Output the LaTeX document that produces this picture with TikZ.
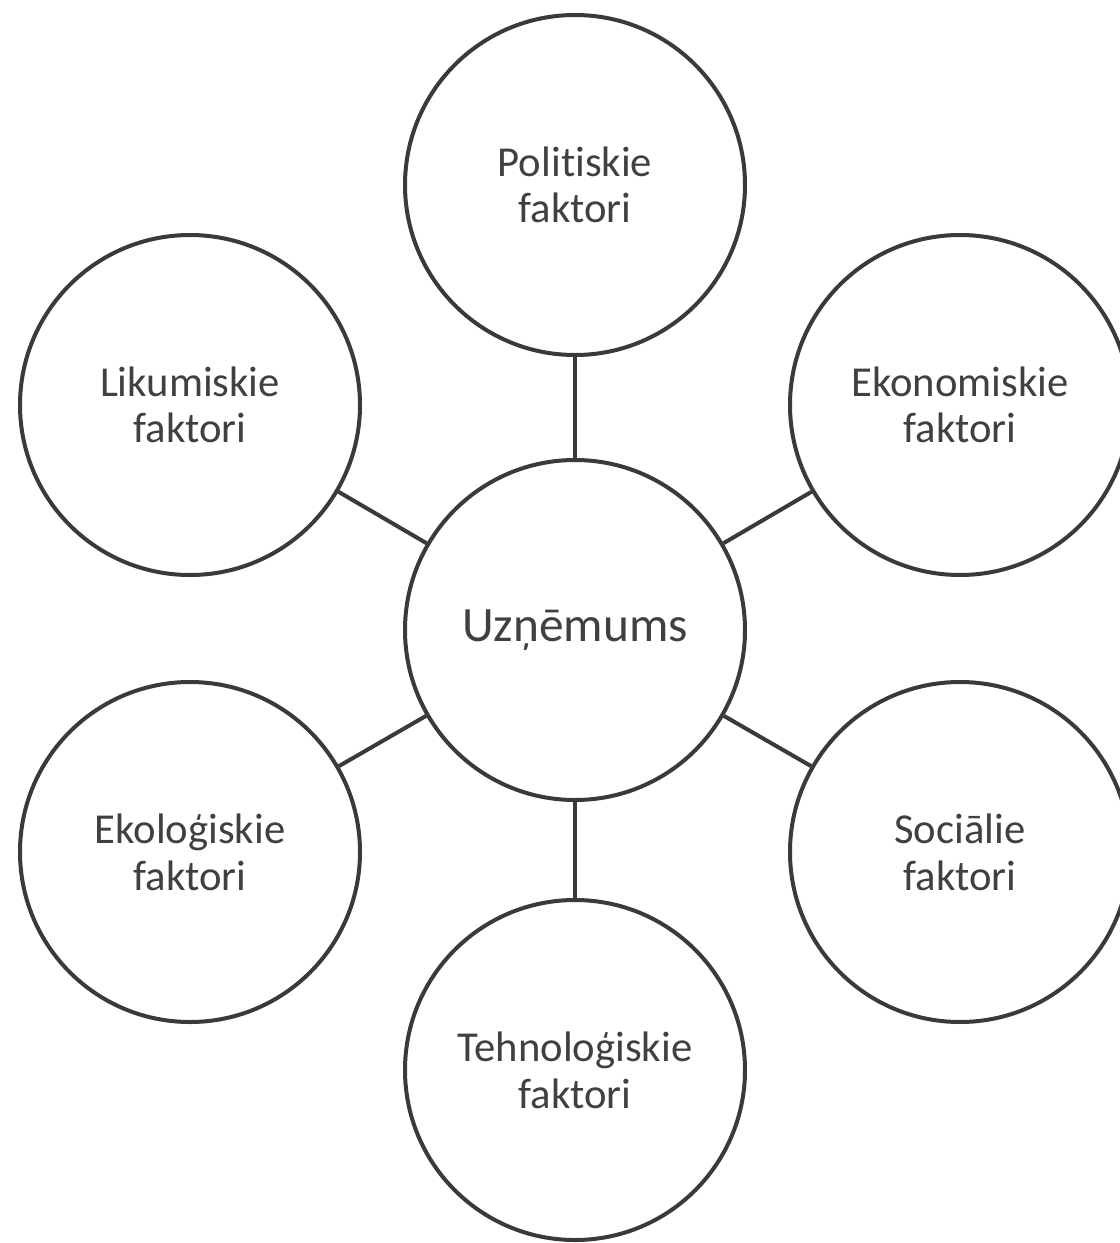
\documentclass[tikz,border=0pt]{standalone}
\usepackage{fontspec}
\setmainfont{Carlito}[Ligatures=NoCommon]
\usepackage{tikz}
\definecolor{darkline}{HTML}{3A3A3A}
\definecolor{darktext}{HTML}{404040}

\begin{document}
\begin{tikzpicture}[x=0.75pt, y=-0.75pt]
    \tikzset{factor/.style = {shape=circle, draw=darkline, line width=3pt, fill=white, minimum size=255pt, inner sep=0pt, align=center, text=darktext, font=\fontsize{32}{35}\selectfont}}
    \tikzset{core/.style = {factor, font=\fontsize{37}{42}\selectfont}}
    \tikzset{edge/.style = {draw=darkline, line width=3pt, -}}

    \useasboundingbox (0,0) rectangle (1120,1243);

    % vertices
    \node[core] (uzn) at (575,630) {Uzņēmums};
    \node[factor] (pol) at (575,185) {Politiskie\\faktori};
    \node[factor] (eko) at (960,405) {Ekonomiskie\\faktori};
    \node[factor] (soc) at (960,852) {Sociālie\\faktori};
    \node[factor] (teh) at (575,1070) {Tehnoloģiskie\\faktori};
    \node[factor] (ekol) at (190,852) {Ekoloģiskie\\faktori};
    \node[factor] (lik) at (190,405) {Likumiskie\\faktori};

    % edges
    \draw[edge] (uzn) -- (pol);
    \draw[edge] (uzn) -- (eko);
    \draw[edge] (uzn) -- (soc);
    \draw[edge] (uzn) -- (teh);
    \draw[edge] (uzn) -- (ekol);
    \draw[edge] (uzn) -- (lik);
\end{tikzpicture}
\end{document}
